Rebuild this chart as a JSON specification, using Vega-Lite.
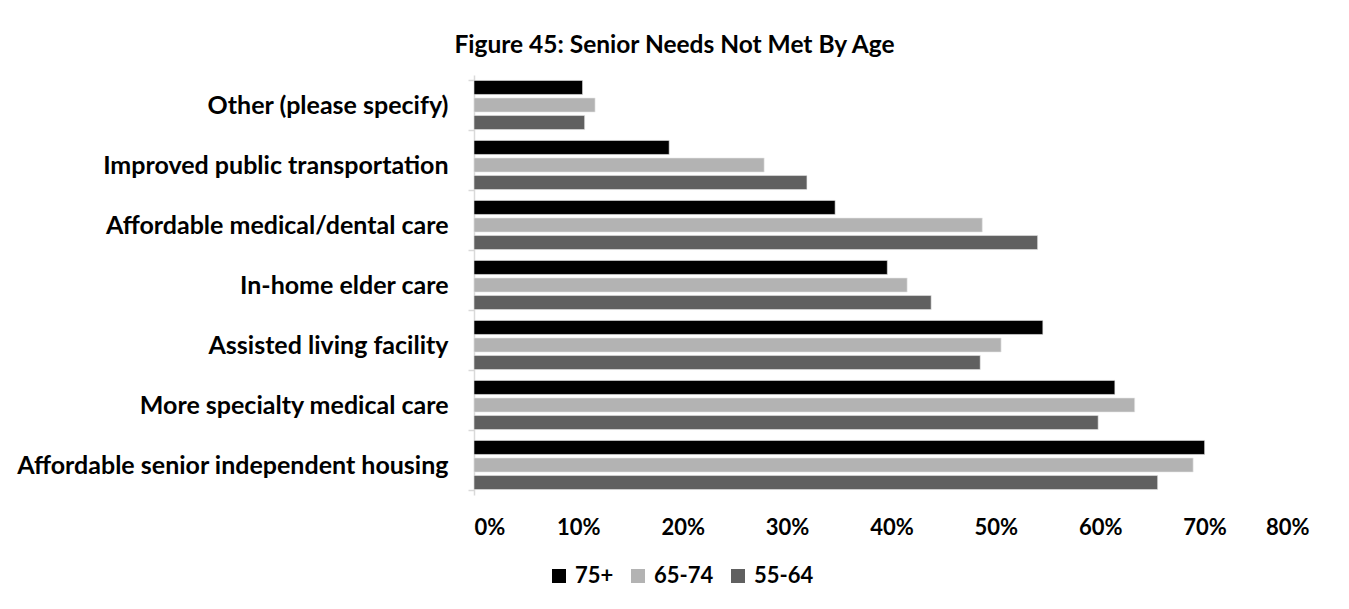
{
  "$schema": "https://vega.github.io/schema/vega-lite/v6.json",
  "autosize": {"type": "none"},
  "width": 835,
  "height": 420,
  "padding": {"left": 474, "top": 75, "right": 40, "bottom": 114},
  "background": "white",
  "title": {
    "text": "Figure 45: Senior Needs Not Met By Age",
    "font": "Lato",
    "fontSize": 24.5,
    "fontWeight": "bold",
    "color": "#000000",
    "anchor": "middle",
    "dx": -217,
    "offset": 5
  },
  "data": {
    "values": [
      {"need": "Other (please specify)", "age": "75+", "value": 0.104},
      {"need": "Other (please specify)", "age": "65-74", "value": 0.116},
      {"need": "Other (please specify)", "age": "55-64", "value": 0.106},
      {"need": "Improved public transportation", "age": "75+", "value": 0.187},
      {"need": "Improved public transportation", "age": "65-74", "value": 0.278},
      {"need": "Improved public transportation", "age": "55-64", "value": 0.319},
      {"need": "Affordable medical/dental care", "age": "75+", "value": 0.346},
      {"need": "Affordable medical/dental care", "age": "65-74", "value": 0.487},
      {"need": "Affordable medical/dental care", "age": "55-64", "value": 0.540},
      {"need": "In-home elder care", "age": "75+", "value": 0.396},
      {"need": "In-home elder care", "age": "65-74", "value": 0.415},
      {"need": "In-home elder care", "age": "55-64", "value": 0.438},
      {"need": "Assisted living facility", "age": "75+", "value": 0.545},
      {"need": "Assisted living facility", "age": "65-74", "value": 0.505},
      {"need": "Assisted living facility", "age": "55-64", "value": 0.485},
      {"need": "More specialty medical care ", "age": "75+", "value": 0.614},
      {"need": "More specialty medical care ", "age": "65-74", "value": 0.633},
      {"need": "More specialty medical care ", "age": "55-64", "value": 0.598},
      {"need": "Affordable senior independent housing", "age": "75+", "value": 0.700},
      {"need": "Affordable senior independent housing", "age": "65-74", "value": 0.689},
      {"need": "Affordable senior independent housing", "age": "55-64", "value": 0.655}
    ]
  },
  "mark": {"type": "bar", "stroke": "#e8e8e8", "strokeWidth": 0.6},
  "encoding": {
    "y": {
      "field": "need",
      "type": "nominal",
      "sort": null,
      "title": null,
      "scale": {"paddingInner": 0.18, "paddingOuter": 0.09},
      "axis": {
        "bandPosition": 0,
        "domainColor": "#d9d9d9",
        "domainWidth": 1.5,
        "tickColor": "#d9d9d9",
        "tickWidth": 1.5,
        "tickSize": 6,
        "tickBand": "extent",
        "labelFont": "Lato",
        "labelFontSize": 25,
        "labelFontWeight": "bold",
        "labelColor": "#000000",
        "labelPadding": 20,
        "labelLimit": 600
      }
    },
    "yOffset": {
      "field": "age",
      "type": "nominal",
      "sort": ["75+", "65-74", "55-64"],
      "scale": {"paddingInner": 0.2, "paddingOuter": 0}
    },
    "x": {
      "field": "value",
      "type": "quantitative",
      "title": null,
      "scale": {"domain": [0, 0.8], "nice": false},
      "axis": {
        "values": [0, 0.1, 0.2, 0.3, 0.4, 0.5, 0.6, 0.7, 0.8],
        "format": ".0%",
        "grid": false,
        "domain": false,
        "ticks": false,
        "labelFont": "Lato",
        "labelFontSize": 22,
        "labelFontWeight": "bold",
        "labelColor": "#000000",
        "labelPadding": 22
      }
    },
    "color": {
      "field": "age",
      "type": "nominal",
      "sort": ["75+", "65-74", "55-64"],
      "scale": {"domain": ["75+", "65-74", "55-64"], "range": ["#000000", "#b3b3b3", "#606060"]},
      "legend": {
        "title": null,
        "orient": "none",
        "direction": "horizontal",
        "legendX": 74,
        "legendY": 490,
        "symbolType": "square",
        "symbolSize": 196,
        "symbolStrokeWidth": 0,
        "symbolOpacity": 1,
        "labelFont": "Lato",
        "labelFontSize": 22,
        "labelFontWeight": "bold",
        "labelColor": "#000000",
        "labelOffset": 5,
        "columnPadding": 13
      }
    }
  },
  "config": {
    "view": {"stroke": null}
  }
}
